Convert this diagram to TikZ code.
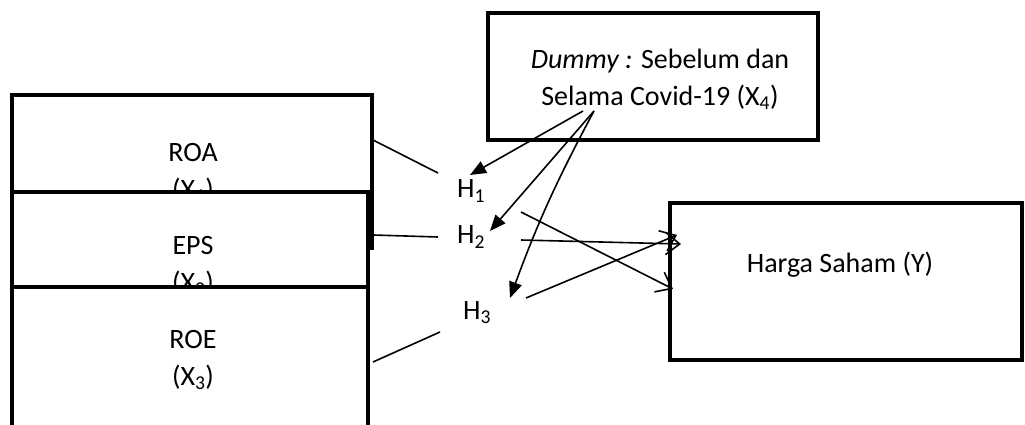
\documentclass[tikz,border=0pt]{standalone}
\usepackage{fontspec}
\setmainfont{Carlito}
\usetikzlibrary{arrows.meta}
\begin{document}
\begin{tikzpicture}[x=1pt,y=-1pt,
  box/.style={draw, line width=4pt, fill=white, inner sep=0pt},
  lbl/.style={font=\fontsize{28}{37}\selectfont, align=center, inner sep=0pt},
  link/.style={line width=1.6pt},
  dum/.style={line width=1.6pt, -{Triangle[length=16pt,width=13pt]}},
  eff/.style={line width=1.6pt, -{Straight Barb[length=14pt,width=22pt]}}]
\useasboundingbox (0,0) rectangle (1025,425);
\clip (0,0) rectangle (1025,425);
% left boxes
\node[box, minimum width=360pt, minimum height=153pt] (roa) at (192,171.5) {};
\node[lbl] (troa) at (193,173) {ROA\\(X\textsubscript{1})};
\node[box, minimum width=356pt, minimum height=150pt] (eps) at (190,267) {};
\node[lbl] (teps) at (193,266) {EPS\\(X\textsubscript{2})};
\node[box, minimum width=356pt, minimum height=160pt] (roe) at (190,367) {};
\node[lbl] (troe) at (193,360) {ROE\\(X\textsubscript{3})};
% dummy box
\node[box, minimum width=330pt, minimum height=127pt] (dum) at (653,76.5) {};
\node[lbl] (tdum) at (660,79) {\textit{Dummy :} Sebelum dan\\Selama Covid-19 (X\textsubscript{4})};
% harga saham
\node[box, minimum width=352pt, minimum height=157pt] (hs) at (846,281.5) {};
\node[lbl] (ths) at (840,265) {Harga Saham (Y)};
% H labels
\node[lbl] (h1) at (471,191) {H\textsubscript{1}};
\node[lbl] (h2) at (471,237) {H\textsubscript{2}};
\node[lbl] (h3) at (477,313) {H\textsubscript{3}};
% coordinates
\coordinate (a1) at (373,140); \coordinate (b1) at (438,173);
\coordinate (a2) at (373,235); \coordinate (b2) at (438,237);
\coordinate (a3) at (373,362); \coordinate (b3) at (440,332);
\coordinate (s1) at (583,111); \coordinate (s2) at (594,111);
\coordinate (t1) at (470,175); \coordinate (t2) at (490,231); \coordinate (t3) at (510,298);
\coordinate (o1) at (521,212); \coordinate (e1) at (673,289);
\coordinate (o2) at (521,240); \coordinate (e2) at (681,244);
\coordinate (o3) at (526,298); \coordinate (e3) at (677,235);
% connectors
\draw[link] (a1) -- (b1);
\draw[link] (a2) -- (b2);
\draw[link] (a3) -- (b3);
\draw[dum] (s1) -- (t1);
\draw[dum] (s2) -- (t2);
\draw[dum] (s2) to[bend right=4] (t3);
\draw[eff] (o1) -- (e1);
\draw[eff] (o2) -- (e2);
\draw[eff] (o3) -- (e3);
\end{tikzpicture}
\end{document}
